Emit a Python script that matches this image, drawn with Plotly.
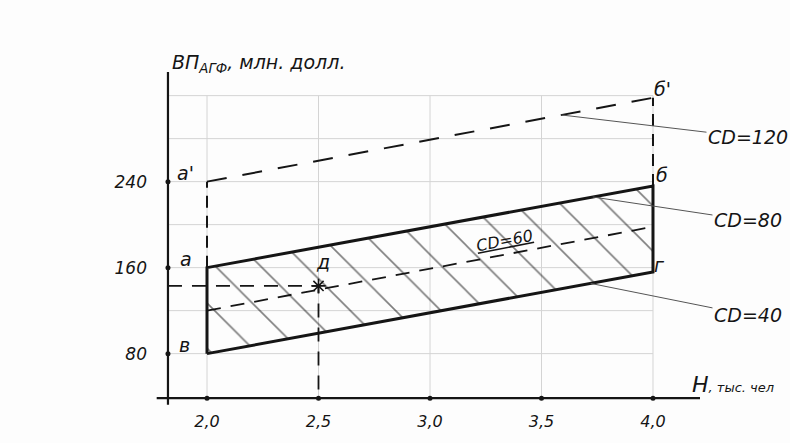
import numpy as np
import plotly.graph_objects as go

# ----------------------------
# Data
# ----------------------------
h_values = [2.0, 4.0]              # Н, тыс. чел
vp_cd40 = [80, 156]                # ВП_АГФ, млн. долл.
vp_cd60 = [120, 198]
vp_cd80 = [160, 236]
vp_cd120 = [240, 318]
point_d = (2.5, 143)

x_ticks = [2.0, 2.5, 3.0, 3.5, 4.0]
x_ticktext = ["2,0", "2,5", "3,0", "3,5", "4,0"]
y_ticks = [80, 160, 240]
y_ticktext = ["80", "160", "240"]
grid_y = [80, 120, 160, 200, 240, 280, 320]

INK = "#151515"
GRID = "#d4d4d4"
FONT = "DejaVu Sans, sans-serif"

# axes origin (where the hand-drawn axes cross)
x0, y0 = 1.825, 38.6
x_lim = [1.7444, 4.2108]
y_lim = [29.43, 348.5]

fig = go.Figure()

# faint grid, drawn only inside the working box
gx, gy = [], []
for yv in grid_y:
    gx += [x0, x_ticks[-1], None]
    gy += [yv, yv, None]
for xv in x_ticks:
    gx += [xv, xv, None]
    gy += [y0, grid_y[-1], None]
fig.add_trace(go.Scatter(x=gx, y=gy, mode="lines", line=dict(color=GRID, width=1),
                         hoverinfo="skip", showlegend=False))

# axes
fig.add_trace(go.Scatter(x=[x0, x0, None, x_lim[0] + 0.03, x_lim[1]],
                         y=[y_lim[0] + 3, 342, None, y0, y0],
                         mode="lines", line=dict(color=INK, width=2.2),
                         hoverinfo="skip", showlegend=False))
fig.add_trace(go.Scatter(x=[x0] * len(y_ticks) + x_ticks,
                         y=y_ticks + [y0] * len(x_ticks),
                         mode="markers", marker=dict(color=INK, size=5),
                         hoverinfo="skip", showlegend=False))

# hatched band between CD=40 and CD=80
band_x = h_values + h_values[::-1] + [h_values[0]]
band_y = vp_cd40 + vp_cd80[::-1] + [vp_cd40[0]]
fig.add_trace(go.Scatter(
    x=band_x, y=band_y, mode="lines", fill="toself",
    fillcolor="rgba(0,0,0,0)",
    fillpattern=dict(shape="\\", size=32, solidity=0.05,
                     fgcolor="#000000", bgcolor="rgba(255,255,255,0)"),
    line=dict(color=INK, width=3), hoverinfo="skip", showlegend=False,
))

# CD=60 and CD=120 (dashed)
fig.add_trace(go.Scatter(x=h_values, y=vp_cd60, mode="lines",
                         line=dict(color=INK, width=1.8, dash="14px,10px"),
                         hoverinfo="skip", showlegend=False))
fig.add_trace(go.Scatter(x=h_values, y=vp_cd120, mode="lines",
                         line=dict(color=INK, width=2, dash="20px,16px"),
                         hoverinfo="skip", showlegend=False))

# vertical dashed links a-a' and б-б'
fig.add_trace(go.Scatter(x=[h_values[0], h_values[0], None, h_values[1], h_values[1]],
                         y=[vp_cd80[0], vp_cd120[0], None, vp_cd80[1], vp_cd120[1]],
                         mode="lines", line=dict(color=INK, width=2, dash="12px,8px"),
                         hoverinfo="skip", showlegend=False))

# point д with projections to axes
dx, dy = point_d
fig.add_trace(go.Scatter(x=[x0, dx, dx], y=[dy, dy, y0], mode="lines",
                         line=dict(color=INK, width=1.8, dash="14px,10px"),
                         hoverinfo="skip", showlegend=False))
fig.add_trace(go.Scatter(x=[dx], y=[dy], mode="markers",
                         marker=dict(symbol="asterisk-open", size=12, color=INK,
                                     line=dict(color=INK, width=1.6)),
                         hoverinfo="skip", showlegend=False))

annotations = []

# point letters
letters = [
    ("а'", h_values[0], vp_cd120[0], -22, 9),
    ("а", h_values[0], vp_cd80[0], -21, 9),
    ("в", h_values[0], vp_cd40[0], -23, 9),
    ("б'", h_values[1], vp_cd120[1], 10, 9),
    ("б", h_values[1], vp_cd80[1], 9, 11),
    ("г", h_values[1], vp_cd40[1], 7, 7),
    ("д", dx, dy, 4, 24),
]
for txt, xv, yv, xs, ys in letters:
    annotations.append(dict(x=xv, y=yv, text=txt, showarrow=False,
                            xshift=xs, yshift=ys, font=dict(size=19)))

# leader lines to the CD labels
leaders = [
    ("CD=120", 3.59, h_values, vp_cd120, 4.426, 281.4),
    ("CD=80", 3.73, h_values, vp_cd80, 4.426, 204.0),
    ("CD=40", 3.72, h_values, vp_cd40, 4.426, 115.9),
]
for txt, xv, hx, vy, lx, ly in leaders:
    annotations.append(dict(
        x=xv, y=float(np.interp(xv, hx, vy)), ax=lx, ay=ly,
        axref="x", ayref="y", text=txt, showarrow=True, arrowhead=0,
        arrowwidth=1, arrowcolor="#555555", font=dict(size=19),
    ))

# CD=60 written along its line
annotations.append(dict(x=3.336, y=float(np.interp(3.336, h_values, vp_cd60)),
                        text="<u>CD=60</u>", showarrow=False, yshift=14,
                        textangle=-11, font=dict(size=16)))

# axis titles
annotations.append(dict(xref="paper", yref="paper", x=0.036, y=1.0,
                        xanchor="left", yanchor="middle", yshift=2,
                        text="ВП<sub>АГФ</sub>, млн. долл.", showarrow=False,
                        font=dict(size=19)))
annotations.append(dict(xref="paper", yref="paper", x=0.982, y=0.069,
                        xanchor="left", yanchor="middle",
                        text="Н<span style='font-size:13px'>, тыс. чел</span>",
                        showarrow=False, font=dict(size=22)))

fig.update_layout(
    width=790, height=443,
    margin=dict(l=150, r=90, t=65, b=31),
    paper_bgcolor="#fdfdfd", plot_bgcolor="rgba(0,0,0,0)",
    font=dict(family=FONT, color=INK, style="italic"),
    showlegend=False,
    annotations=annotations,
    xaxis=dict(range=x_lim, showgrid=False, zeroline=False, showline=False,
               tickvals=x_ticks, ticktext=x_ticktext, ticks="",
               ticklabelstandoff=2, tickfont=dict(size=16, style="italic")),
    yaxis=dict(range=y_lim, showgrid=False, zeroline=False, showline=False,
               tickvals=y_ticks, ticktext=y_ticktext, ticks="",
               ticklabelstandoff=2, tickfont=dict(size=17, style="italic")),
)

# drop the default page margin so the 790x443 figure fills the window
fig.write_html("out.html", config={"displayModeBar": False},
               post_script="document.body.style.margin='0';")
